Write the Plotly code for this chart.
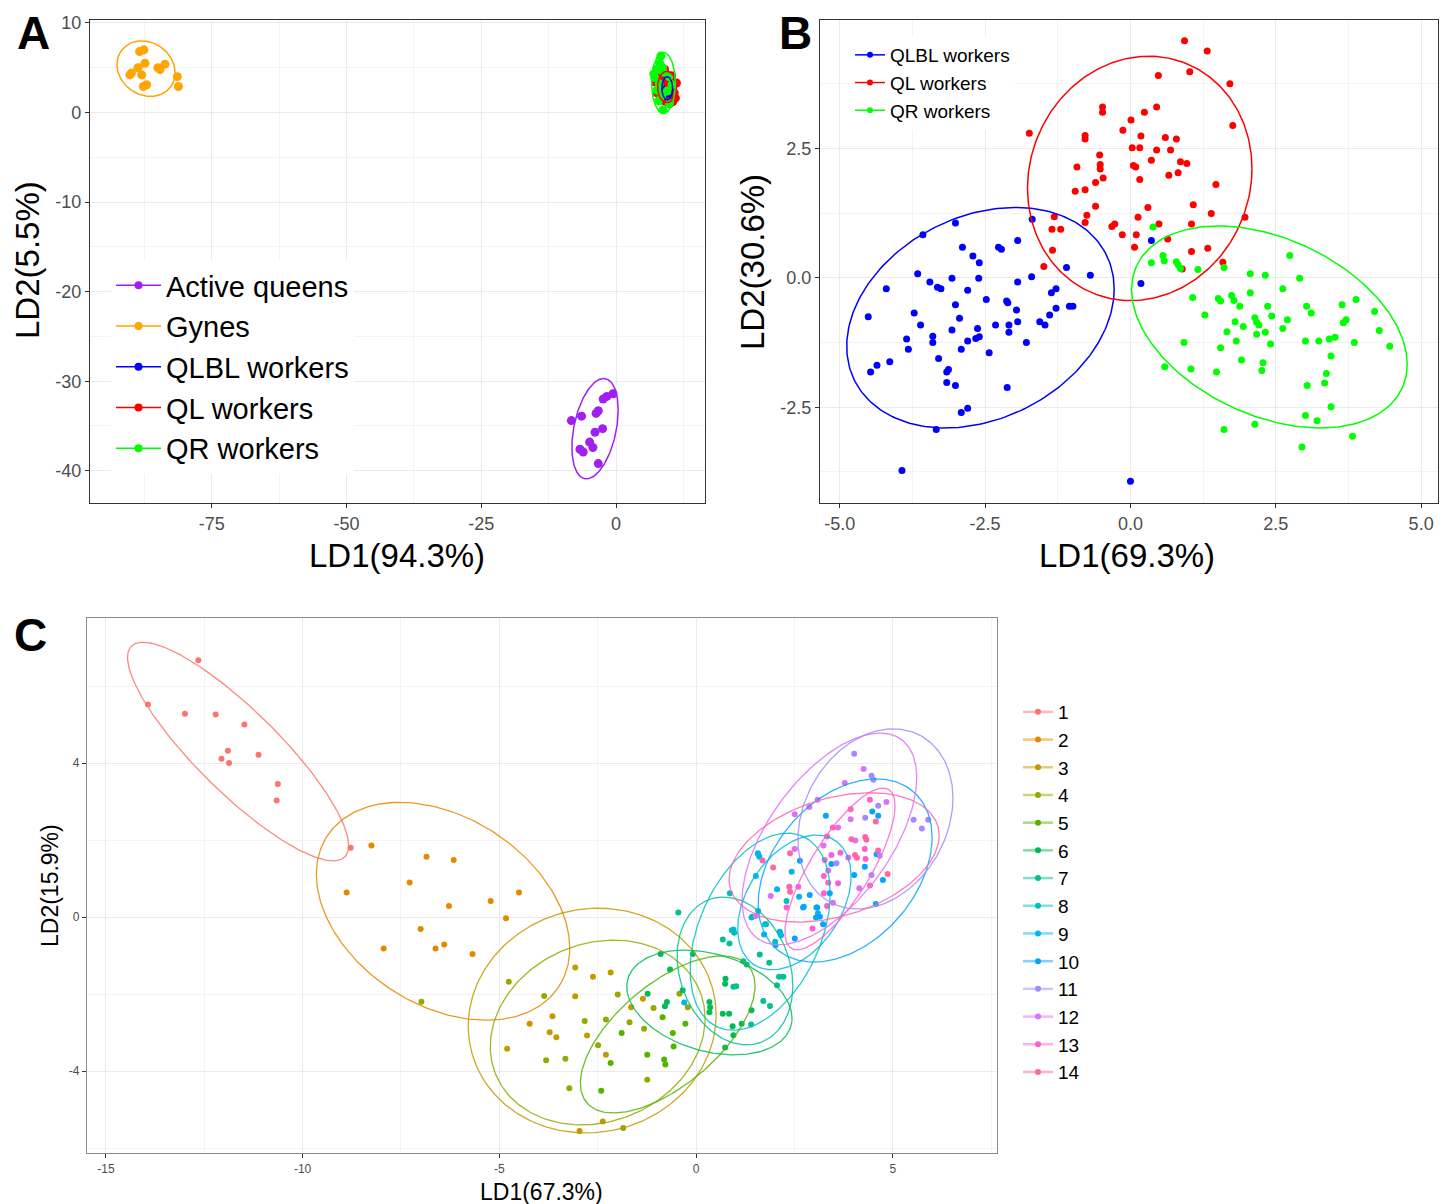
import numpy as np
import plotly.graph_objects as go

W, H = 1452, 1204

# ---------------- Panel A data ----------------
A_QUEENS = [(-8.3, -34.4), (-6.4, -33.9), (-2.4, -32.0), (-0.55, -31.4), (-3.3, -33.3), (-3.9, -35.7),
            (-2.5, -35.3), (-4.9, -36.8), (-6.7, -37.6), (-4.3, -37.4), (-3.3, -39.2), (-6.1, -37.9),
            (-1.7, -31.7), (-3.7, -33.6)]
A_GYNES = [(-88.4, 6.8), (-87.6, 7.0), (-87.4, 5.5), (-88.7, 5.0), (-89.9, 4.4), (-88.0, 4.2), (-87.7, 2.9),
           (-85.0, 5.0), (-83.7, 5.4), (-84.6, 4.8), (-81.4, 4.0), (-81.2, 2.9), (-90.2, 4.2), (-87.1, 3.1)]
A_QLBL = [(8.6, 3.9), (9.6, 4.1), (10.2, 3.2), (10.0, 2.0), (9.1, 1.3), (8.3, 2.1), (8.9, 2.9), (9.9, 1.0),
          (9.4, 3.4), (10.4, 2.6)]
A_QL = [(8.0, 4.3), (9.0, 4.8), (10.3, 4.1), (11.2, 3.3), (10.8, 2.2), (9.5, 1.2), (8.5, 1.4), (7.6, 2.2),
        (7.3, 3.4), (10.0, 3.6), (11.0, 1.6), (9.8, 2.8), (8.7, 3.5), (10.5, 1.2)]
A_QR = [(8.3, 6.3), (8.1, 5.5), (7.5, 4.8), (8.8, 4.5), (7.2, 3.9), (9.8, 4.0), (8.0, 3.2), (7.6, 2.5),
        (9.5, 2.4), (8.5, 1.9), (7.9, 1.3), (9.9, 1.0), (8.7, 0.3), (10.4, 3.1), (7.0, 4.3), (8.6, 5.0)]
A_NAMES = ["Active queens", "Gynes", "QLBL workers", "QL workers", "QR workers"]
# ellipse: centre x, centre y, half-width x, half-height y, correlation
A_ELL = {"Active queens": (-3.9, -35.3, 4.3, 5.6, 0.37),
         "Gynes": (-87.2, 4.9, 5.4, 3.1, -0.15),
         "QLBL workers": (9.5, 2.7, 1.0, 1.3, 0.0),
         "QL workers": (9.45, 2.85, 1.75, 1.75, 0.0),
         "QR workers": (8.8, 3.3, 2.2, 3.4, 0.0)}
A_XTICKS = [-75, -50, -25, 0]
A_XTEXT = ["-75", "-50", "-25", "0"]
A_YTICKS = [10, 0, -10, -20, -30, -40]
A_YTEXT = ["10", "0", "-10", "-20", "-30", "-40"]

# ---------------- Panel B data ----------------
B_QLBL = [(-1.69, 1.13), (-3.01, 1.06), (-3.57, 0.83), (-1.94, 0.72), (-2.89, 0.59), (-2.27, 0.59), (-2.22, 0.55),
          (-2.71, 0.42), (-2.60, 0.29), (-1.10, 0.20), (-0.69, 0.05), (0.36, 0.72), (0.18, -0.11), (-3.66, 0.08),
          (-3.07, -0.01), (-2.61, -0.01), (-1.70, 0.02), (-3.45, -0.08), (-3.32, -0.18), (-3.26, -0.21),
          (-4.20, -0.21), (-1.94, -0.08), (-2.80, -0.24), (-1.36, -0.29), (-1.28, -0.21), (-2.48, -0.42),
          (-2.13, -0.45), (-2.11, -0.48), (-3.01, -0.52), (-1.96, -0.62), (-1.28, -0.59), (-1.05, -0.55),
          (-0.99, -0.55), (-4.51, -0.75), (-3.72, -0.68), (-2.94, -0.78), (-1.39, -0.72), (-3.61, -0.91),
          (-2.32, -0.91), (-2.09, -0.91), (-2.09, -1.05), (-1.94, -0.85), (-1.56, -0.85), (-1.47, -0.91),
          (-3.07, -1.01), (-2.63, -0.98), (-3.85, -1.18), (-3.40, -1.13), (-3.40, -1.25), (-2.80, -1.22),
          (-2.66, -1.17), (-2.60, -1.14), (-1.79, -1.25), (-3.82, -1.38), (-2.91, -1.38), (-2.43, -1.45),
          (-3.30, -1.56), (-4.14, -1.62), (-4.36, -1.69), (-4.47, -1.82), (-3.13, -1.77), (-3.16, -1.82),
          (-3.16, -2.02), (-3.01, -2.08), (-2.12, -2.12), (-2.91, -2.60), (-2.80, -2.52), (-3.34, -2.93),
          (-3.93, -3.72), (0.0, -3.93)]
B_QL = [(0.93, 4.58), (1.32, 4.38), (0.48, 3.91), (1.02, 3.98), (1.71, 3.75), (1.76, 2.94), (-0.48, 3.30),
        (-0.48, 3.20), (0.24, 3.20), (0.45, 3.30), (0.01, 3.05), (-0.13, 2.85), (0.18, 2.74), (0.60, 2.71),
        (0.79, 2.68), (-0.78, 2.75), (-0.78, 2.68), (0.03, 2.51), (0.16, 2.51), (0.45, 2.47), (0.69, 2.47),
        (-0.53, 2.37), (0.36, 2.27), (0.86, 2.24), (0.97, 2.21), (-0.92, 2.14), (-0.52, 2.19), (-0.52, 2.10),
        (0.05, 2.17), (0.09, 2.14), (-0.47, 1.93), (-0.60, 1.84), (0.16, 1.90), (0.66, 1.98), (0.82, 2.03),
        (1.47, 1.80), (-0.95, 1.67), (-0.78, 1.70), (-0.60, 1.38), (0.30, 1.36), (1.08, 1.41), (-0.75, 1.21),
        (-1.31, 1.18), (-0.78, 1.07), (0.13, 1.17), (1.39, 1.24), (1.97, 1.17), (-0.32, 0.99), (-0.27, 1.04),
        (0.49, 1.04), (1.05, 1.04), (-1.35, 0.94), (-1.20, 0.94), (-0.14, 0.83), (0.10, 0.83), (0.07, 0.59),
        (1.05, 0.51), (1.33, 0.57), (-1.34, 0.53), (-1.49, 0.22), (1.59, 0.30), (0.89, 0.17), (0.64, 0.75),
        (-1.74, 2.79)]
B_QR = [(0.39, 0.98), (0.36, 0.29), (0.56, 0.43), (0.58, 0.33), (0.79, 0.31), (0.82, 0.25), (0.86, 0.18),
        (1.16, 0.16), (1.61, 0.20), (2.74, 0.43), (2.06, 0.08), (2.32, 0.05), (2.91, -0.01), (1.07, -0.38),
        (2.06, -0.29), (2.62, -0.21), (1.51, -0.40), (1.55, -0.45), (1.74, -0.34), (1.78, -0.44), (1.88, -0.55),
        (2.36, -0.55), (3.03, -0.55), (3.11, -0.68), (3.64, -0.52), (3.88, -0.42), (4.20, -0.65), (1.28, -0.72),
        (2.43, -0.74), (2.14, -0.77), (2.17, -0.86), (2.21, -0.91), (1.80, -0.85), (1.94, -0.94), (2.70, -0.81),
        (2.62, -0.98), (3.66, -0.87), (3.71, -0.81), (1.66, -1.04), (2.17, -1.09), (2.32, -1.05), (4.28, -1.02),
        (0.92, -1.25), (1.82, -1.22), (2.41, -1.28), (3.01, -1.22), (3.24, -1.22), (3.42, -1.18), (3.52, -1.15),
        (3.85, -1.25), (4.46, -1.32), (1.55, -1.35), (3.45, -1.51), (1.91, -1.59), (2.28, -1.64), (2.26, -1.79),
        (0.59, -1.72), (1.04, -1.76), (1.48, -1.82), (3.37, -1.85), (3.34, -2.03), (3.04, -2.08), (3.45, -2.49),
        (3.01, -2.66), (3.21, -2.76), (2.14, -2.83), (1.61, -2.93), (3.82, -3.06), (2.95, -3.27)]
B_NAMES = ["QLBL workers", "QL workers", "QR workers"]
B_ELL = {"QLBL workers": (-2.58, -0.77, 2.30, 2.13, 0.26),
         "QL workers": (0.16, 1.92, 1.93, 2.36, 0.08),
         "QR workers": (2.39, -0.95, 2.37, 1.95, -0.37)}
B_XTICKS = [-5.0, -2.5, 0.0, 2.5, 5.0]
B_XTEXT = ["-5.0", "-2.5", "0.0", "2.5", "5.0"]
B_YTICKS = [2.5, 0.0, -2.5]
B_YTEXT = ["2.5", "0.0", "-2.5"]

# ---------------- Panel C data ----------------
C_G1 = [(-12.65, 6.67), (-13.93, 5.52), (-12.99, 5.28), (-12.21, 5.26), (-11.48, 5.0), (-11.90, 4.32),
        (-12.06, 4.11), (-11.87, 4.0), (-11.12, 4.22), (-10.63, 3.46), (-10.66, 3.03), (-8.78, 1.80)]
C_G2 = [(-8.25, 1.86), (-6.85, 1.57), (-6.16, 1.48), (-8.88, 0.64), (-7.28, 0.90), (-6.28, 0.29), (-5.22, 0.42),
        (-4.50, 0.64), (-4.83, -0.03), (-7.00, -0.31), (-7.94, -0.82), (-6.62, -0.82), (-6.40, -0.71),
        (-5.68, -0.96), (-4.23, -2.77)]
C_G3 = [(-3.07, -1.31), (-2.62, -1.55), (-2.17, -1.44), (-3.07, -2.06), (-1.35, -2.12), (-1.65, -2.34),
        (-3.65, -2.58), (-3.72, -2.99), (-3.55, -3.12), (-2.77, -3.08), (-4.80, -3.42), (-2.29, -3.58),
        (-2.37, -5.31), (-2.96, -5.56)]
C_G4 = [(-4.76, -1.68), (-3.86, -2.05), (-1.99, -2.01), (-1.08, -2.36), (-0.42, -1.99), (-2.83, -2.70),
        (-2.29, -2.66), (-1.69, -2.73), (-1.32, -2.90), (-2.49, -3.33), (-3.81, -3.72), (-3.32, -3.68),
        (-3.22, -4.45), (-1.24, -4.23), (-0.21, -2.34), (-1.85, -5.48), (-6.98, -2.20)]
C_G5 = [(-1.89, -3.01), (-2.41, -4.51), (-2.17, -3.79), (-1.24, -3.58), (-0.81, -3.70), (-0.78, -3.83),
        (-0.57, -3.36), (-0.59, -3.01), (-0.85, -2.60), (-0.27, -2.77)]
C_G6 = [(-0.79, -2.32), (-0.74, -2.21), (-0.90, -0.96), (-0.66, -1.36), (-1.23, -1.99), (-0.34, -1.90),
        (-0.08, -0.96), (0.34, -2.21), (0.36, -2.34), (0.34, -2.47), (0.75, -1.60), (0.74, -1.73),
        (0.68, -2.51), (0.84, -2.51), (0.93, -2.84), (0.95, -3.07), (0.74, -3.39), (1.16, -2.77), (1.41, -2.42)]
C_G7 = [(-0.45, 0.12), (1.20, -1.15), (1.29, -1.23), (1.62, -0.97), (1.86, -1.19), (2.11, -1.55), (2.22, -1.55),
        (2.06, -1.77), (0.95, -1.81), (1.02, -1.80), (1.40, -2.79), (1.71, -2.18), (1.88, -2.31), (0.68, -0.58),
        (0.85, -0.69)]
C_G8 = [(0.91, -0.34), (0.97, -0.41), (0.86, 0.62), (2.30, 0.42), (1.58, 0.16), (1.41, -0.01), (1.78, -0.19),
        (2.01, -0.64), (2.02, -0.73), (1.43, 0.01), (1.75, -0.19), (2.13, -0.41), (0.95, -0.32)]
C_G9 = [(1.57, 1.66), (1.61, 1.57), (1.52, 1.07), (2.43, 1.18), (2.06, 0.72), (2.13, -0.38), (2.16, -0.47),
        (1.73, -0.45), (-0.30, -2.22), (2.74, 0.27), (3.10, 0.10), (2.62, 0.53), (1.58, 1.63)]
C_G10 = [(2.64, 1.46), (2.89, 0.57), (2.72, 0.25), (3.06, 0.25), (2.51, -0.56), (3.05, -0.01), (3.30, 2.63),
         (4.48, 2.74), (4.63, 2.63), (4.59, 1.63), (3.44, 1.38), (4.29, 1.31), (4.02, 1.09), (4.75, 0.96),
         (4.57, 0.34), (3.40, 0.62), (3.15, 0.01), (3.23, -0.19), (3.08, 0.25)]
C_G11 = [(4.02, 4.24), (4.46, 3.67), (4.51, 3.57), (4.63, 2.89), (4.30, 2.58), (5.53, 2.53), (5.74, 2.30),
         (5.90, 2.53), (4.67, 1.59), (3.57, 1.40), (4.46, 1.09)]
C_G12 = [(4.26, 3.85), (3.78, 3.48), (3.09, 3.05), (2.88, 2.86), (2.51, 2.67), (4.84, 2.99), (3.93, 2.54),
         (3.61, 2.33), (3.24, 1.86), (2.51, 1.77), (3.36, 1.21), (4.15, 0.75), (3.48, 0.37), (1.90, 0.55),
         (1.52, 0.03), (4.05, 1.99)]
C_G13 = [(2.60, 0.79), (2.30, 0.25), (2.96, -0.30), (4.42, 3.05), (4.29, 1.77), (3.44, 1.61), (3.67, 1.67),
         (3.27, 1.48), (3.87, 1.55), (4.31, 1.51), (3.25, 1.07), (3.36, 0.89), (3.61, 0.88), (4.42, 0.82),
         (3.25, 0.62), (3.33, 0.29)]
C_G14 = [(1.69, 1.47), (2.39, 1.66), (1.96, 1.29), (2.39, 0.66), (3.93, 2.80), (4.57, 2.48), (3.48, 2.33),
         (3.33, 2.09), (3.95, 2.02), (4.30, 2.08), (4.33, 2.01), (4.63, 1.73), (4.04, 1.61), (4.09, 1.54),
         (4.87, 1.12), (2.37, 0.79)]
C_GROUPS = [str(i) for i in range(1, 15)]
C_POINTS = [C_G1, C_G2, C_G3, C_G4, C_G5, C_G6, C_G7, C_G8, C_G9, C_G10, C_G11, C_G12, C_G13, C_G14]
C_ELL_CX = [-11.64, -6.43, -2.64, -2.50, -0.72, 0.34, 0.99, 1.63, 2.50, 3.79, 4.56, 3.39, 3.66, 3.51]
C_ELL_CY = [4.30, 0.15, -2.69, -3.00, -3.05, -2.22, -1.40, -0.38, 0.38, 1.21, 2.55, 2.03, 1.25, 1.55]
C_ELL_A = [2.81, 3.22, 3.15, 2.73, 2.22, 2.10, 1.47, 1.78, 1.44, 2.21, 1.97, 2.22, 1.40, 2.67]
C_ELL_B = [2.84, 2.83, 2.92, 2.40, 2.04, 1.36, 1.92, 2.56, 1.75, 2.38, 2.34, 2.75, 2.10, 1.68]
C_ELL_RHO = [-0.86, -0.34, 0.05, 0.15, 0.62, -0.30, -0.20, 0.39, 0.39, 0.36, 0.23, 0.58, 0.78, 0.34]
C_XTICKS = [-15, -10, -5, 0, 5]
C_XTEXT = ["-15", "-10", "-5", "0", "5"]
C_YTICKS = [-4, 0, 4]
C_YTEXT = ["-4", "0", "4"]

# ---------------- styles ----------------
A_COLORS = {"Active queens": "#A020F0", "Gynes": "#FFA500", "QLBL workers": "#0000FF",
            "QL workers": "#FF0000", "QR workers": "#00FF00"}
C_COLORS = ["#F8766D", "#E38900", "#C49A00", "#99A800", "#53B400", "#00BC56", "#00C094",
            "#00BFC4", "#00B6EB", "#06A4FF", "#A58AFF", "#DF70F8", "#FB61D7", "#FF66A8"]
FONT = "Liberation Sans, Arial, sans-serif"


def ellipse(cx, cy, a, b, rho, n=240):
    t = np.linspace(0, 2 * np.pi, n)
    d = np.arccos(rho)
    return cx + a * np.cos(t), cy + b * np.cos(t - d)


def rgba(hexc, alpha):
    h = hexc.lstrip("#")
    return "rgba(%d,%d,%d,%.2f)" % (int(h[0:2], 16), int(h[2:4], 16), int(h[4:6], 16), alpha)


fig = go.Figure()

# Panel A
A_DATA = {"Active queens": A_QUEENS, "Gynes": A_GYNES, "QLBL workers": A_QLBL,
          "QL workers": A_QL, "QR workers": A_QR}
for nm in A_NAMES:
    pts = A_DATA[nm]
    fig.add_trace(go.Scatter(x=[p[0] for p in pts], y=[p[1] for p in pts], mode="markers",
                             marker=dict(color=A_COLORS[nm], size=9), xaxis="x", yaxis="y",
                             showlegend=False, hoverinfo="skip"))
for nm in A_NAMES:
    ex, ey = ellipse(*A_ELL[nm])
    fig.add_trace(go.Scatter(x=ex, y=ey, mode="lines", line=dict(color=A_COLORS[nm], width=1.5),
                             xaxis="x", yaxis="y", showlegend=False, hoverinfo="skip"))
for nm in A_NAMES:
    fig.add_trace(go.Scatter(x=[None], y=[None], mode="lines+markers", name=nm,
                             line=dict(color=A_COLORS[nm], width=1.5), marker=dict(color=A_COLORS[nm], size=8),
                             xaxis="x", yaxis="y", legend="legend"))

# Panel B
B_DATA = {"QLBL workers": B_QLBL, "QL workers": B_QL, "QR workers": B_QR}
for nm in B_NAMES:
    pts = B_DATA[nm]
    fig.add_trace(go.Scatter(x=[p[0] for p in pts], y=[p[1] for p in pts], mode="markers",
                             marker=dict(color=A_COLORS[nm], size=7), xaxis="x2", yaxis="y2",
                             showlegend=False, hoverinfo="skip"))
for nm in B_NAMES:
    ex, ey = ellipse(*B_ELL[nm])
    fig.add_trace(go.Scatter(x=ex, y=ey, mode="lines", line=dict(color=A_COLORS[nm], width=1.5),
                             xaxis="x2", yaxis="y2", showlegend=False, hoverinfo="skip"))
for nm in B_NAMES:
    fig.add_trace(go.Scatter(x=[None], y=[None], mode="lines+markers", name=nm,
                             line=dict(color=A_COLORS[nm], width=1.5), marker=dict(color=A_COLORS[nm], size=6),
                             xaxis="x2", yaxis="y2", legend="legend2"))

# Panel C
for i, pts in enumerate(C_POINTS):
    fig.add_trace(go.Scatter(x=[p[0] for p in pts], y=[p[1] for p in pts], mode="markers",
                             marker=dict(color=C_COLORS[i], size=6), xaxis="x3", yaxis="y3",
                             showlegend=False, hoverinfo="skip"))
for i in range(len(C_GROUPS)):
    ex, ey = ellipse(C_ELL_CX[i], C_ELL_CY[i], C_ELL_A[i], C_ELL_B[i], C_ELL_RHO[i])
    fig.add_trace(go.Scatter(x=ex, y=ey, mode="lines", line=dict(color=rgba(C_COLORS[i], 0.85), width=1.3),
                             xaxis="x3", yaxis="y3", showlegend=False, hoverinfo="skip"))
for i, g in enumerate(C_GROUPS):
    fig.add_trace(go.Scatter(x=[None], y=[None], mode="lines+markers", name=g,
                             line=dict(color=rgba(C_COLORS[i], 0.5), width=2.5),
                             marker=dict(color=C_COLORS[i], size=6),
                             xaxis="x3", yaxis="y3", legend="legend3"))


def axis(domain, rng, tickvals, ticktext, minor_vals, anchor, tsize, border="#333333"):
    return dict(domain=domain, range=rng, anchor=anchor, tickmode="array", tickvals=tickvals,
                ticktext=ticktext, showline=True, mirror=True, linecolor=border, linewidth=1.3,
                ticks="outside", ticklen=4, tickcolor="#333333", tickwidth=1, automargin=False,
                tickfont=dict(family=FONT, size=tsize, color="#4D4D4D"),
                showgrid=True, gridcolor="#EBEBEB", gridwidth=1.3, zeroline=False,
                minor=dict(tickmode="array", tickvals=minor_vals, showgrid=True, gridcolor="#F3F3F3",
                           gridwidth=0.8, ticks=""))


def px_to_fx(p):
    return p / W


def py_to_fy(p):
    return 1 - p / H


domA_x = [px_to_fx(90), px_to_fx(705)]
domB_x = [px_to_fx(820), px_to_fx(1438)]
domAB_y = [py_to_fy(503), py_to_fy(20)]
domC_x = [px_to_fx(87), px_to_fx(997)]
domC_y = [py_to_fy(1153), py_to_fy(618)]

fig.update_layout(
    width=W, height=H, margin=dict(l=0, r=0, t=0, b=0, pad=0, autoexpand=False),
    paper_bgcolor="white", plot_bgcolor="white",
    font=dict(family=FONT, color="black"),
    xaxis=axis(domA_x, [-97.6, 16.5], A_XTICKS, A_XTEXT, [-87.5, -62.5, -37.5, -12.5, 12.5], "y", 18),
    yaxis=axis(domAB_y, [-43.6, 10.33], A_YTICKS, A_YTEXT, [5, -5, -15, -25, -35], "x", 18),
    xaxis2=axis(domB_x, [-5.34, 5.29], B_XTICKS, B_XTEXT, [-3.75, -1.25, 1.25, 3.75], "y2", 18),
    yaxis2=axis(domAB_y, [-4.35, 4.98], B_YTICKS, B_YTEXT, [3.75, 1.25, -1.25, -3.75], "x2", 18),
    xaxis3=axis(domC_x, [-15.48, 7.65], C_XTICKS, C_XTEXT, [-12.5, -7.5, -2.5, 2.5, 7.5], "y3", 12, "#8C8C8C"),
    yaxis3=axis(domC_y, [-6.13, 7.77], C_YTICKS, C_YTEXT, [-6, -2, 2, 6], "x3", 12, "#8C8C8C"),
    legend=dict(x=px_to_fx(111), y=py_to_fy(260), xanchor="left", yanchor="top", bgcolor="white",
                font=dict(family=FONT, size=29, color="black"), itemwidth=45, tracegroupgap=0),
    legend2=dict(x=px_to_fx(850), y=py_to_fy(36), xanchor="left", yanchor="top", bgcolor="white",
                 font=dict(family=FONT, size=19, color="black"), itemwidth=30, tracegroupgap=0),
    legend3=dict(x=px_to_fx(1018), y=py_to_fy(693), xanchor="left", yanchor="top", bgcolor="rgba(0,0,0,0)",
                 font=dict(family=FONT, size=19, color="black"), itemwidth=30, tracegroupgap=0),
    showlegend=True,
)

ann = [
    ("A", 33, 33, 46, True, 0), ("B", 795, 33, 46, True, 0), ("C", 30, 635, 46, True, 0),
    ("LD1(94.3%)", 397, 555, 33, False, 0), ("LD2(5.5%)", 28, 260, 33, False, -90),
    ("LD1(69.3%)", 1127, 555, 33, False, 0), ("LD2(30.6%)", 752, 262, 33, False, -90),
    ("LD1(67.3%)", 541, 1192, 23, False, 0), ("LD2(15.9%)", 50, 886, 23, False, -90),
]
for txt, x, y, s, bold, ang in ann:
    fig.add_annotation(text=("<b>%s</b>" % txt) if bold else txt, x=px_to_fx(x), y=py_to_fy(y),
                       xref="paper", yref="paper", showarrow=False, xanchor="center", yanchor="middle",
                       textangle=ang, font=dict(family=FONT, size=s, color="black"))

fig.write_html("out.html")
